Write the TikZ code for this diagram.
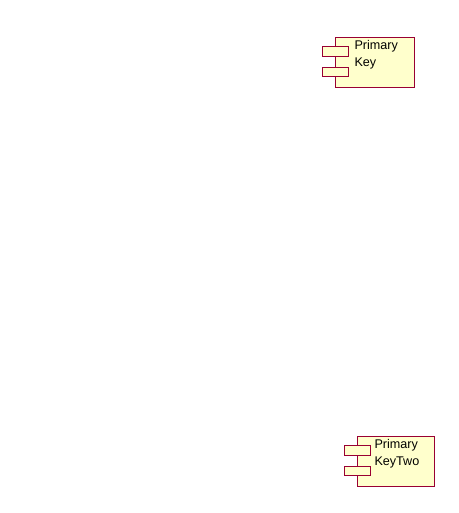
\documentclass[tikz,border=0pt]{standalone}
\usepackage{fontspec}
\setmainfont{Liberation Sans}
\usepackage{xcolor}
\usetikzlibrary{positioning}
\definecolor{compborder}{HTML}{990033}
\definecolor{compfill}{HTML}{FFFFCC}

\begin{document}
\begin{tikzpicture}[x=1pt, y=-1pt,
  compbody/.style={draw=compborder, fill=compfill, line width=1pt, inner sep=0pt, anchor=north west},
  comptab/.style={draw=compborder, fill=compfill, line width=1pt, inner sep=0pt, minimum width=26pt, minimum height=9.5pt},
  complabel/.style={anchor=north west, inner sep=0pt, align=left, font=\fontsize{12.6}{16.8}\selectfont}]

\useasboundingbox (0,0) rectangle (458,513);

\node[compbody, minimum width=79pt, minimum height=50pt] (a) at (335,37) {};
\node[comptab] (a1) at ([yshift=-14.5pt]a.north west) {};
\node[comptab] (a2) at ([yshift=-35pt]a.north west) {};
\node[complabel] (at) at (354.3,40) {Primary\\Key};

\node[compbody, minimum width=77pt, minimum height=50pt] (b) at (357,436) {};
\node[comptab] (b1) at ([yshift=-14.5pt]b.north west) {};
\node[comptab] (b2) at ([yshift=-35pt]b.north west) {};
\node[complabel] (bt) at (374.3,439) {Primary\\KeyTwo};

\end{tikzpicture}
\end{document}
